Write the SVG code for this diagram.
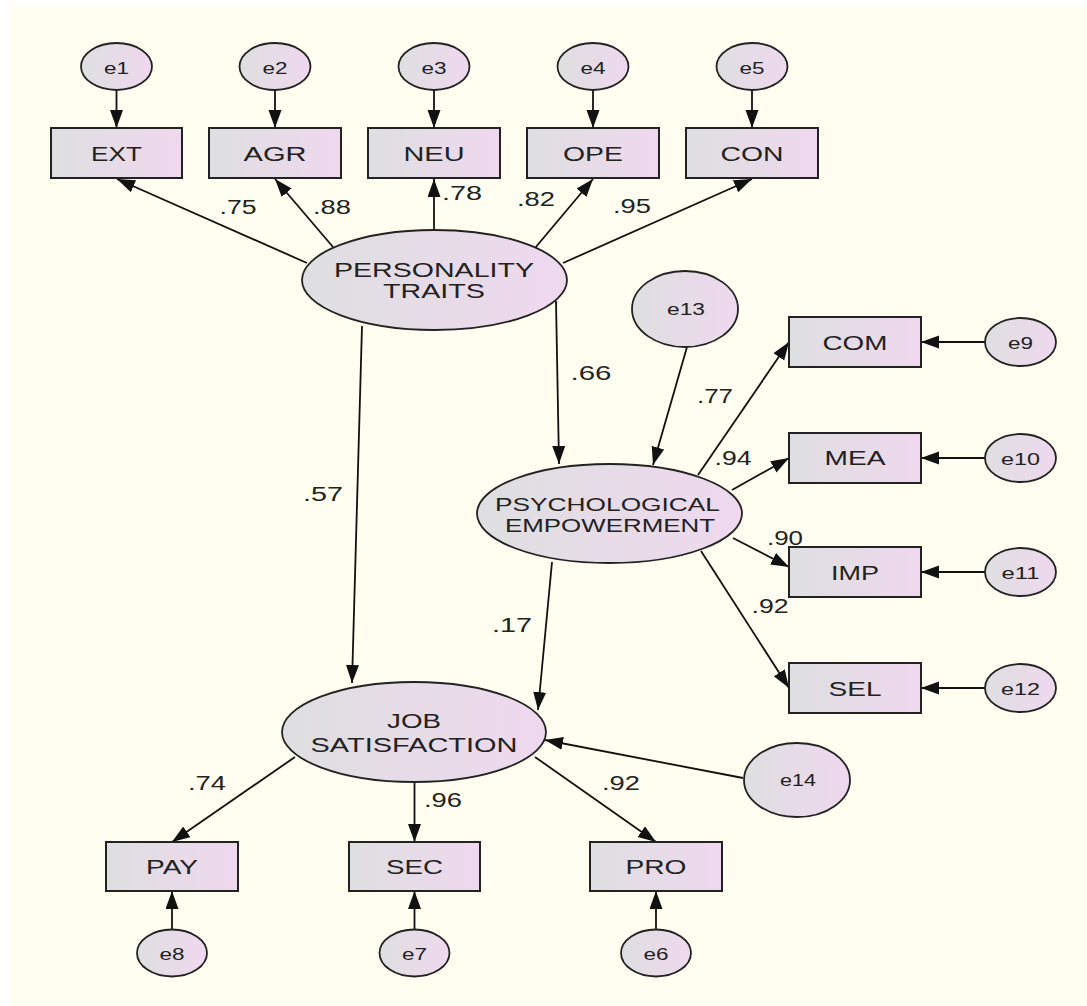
<svg xmlns="http://www.w3.org/2000/svg" width="1087" height="1006" viewBox="0 0 1087 1006">
<style>
.bx{fill:url(#g);stroke:#222;stroke-width:2}
.el{fill:url(#g);stroke:#222;stroke-width:1.8}
.t{font-family:"Liberation Sans",Arial,sans-serif;fill:#222;text-anchor:middle}
.tb{font-size:20px}
.te{font-size:16.5px}
.tl{font-size:19.5px}
.cn line{stroke:#111;stroke-width:1.8;marker-end:url(#ah)}
</style>
<defs>
<linearGradient id="g" x1="0" y1="0" x2="1" y2="0">
<stop offset="0" stop-color="#dedfe0"/>
<stop offset="1" stop-color="#efd8ef"/>
</linearGradient>
<marker id="ah" markerUnits="userSpaceOnUse" markerWidth="19" markerHeight="14" refX="18" refY="6.5" orient="auto">
<path d="M0,0 L18,6.5 L0,13 z" fill="#111"/>
</marker>
</defs>
<rect x="0" y="0" width="1087" height="1006" fill="#ffffff"/>
<rect x="10" y="5" width="1077" height="1001" fill="#fffef0"/>

<g id="connectors" class="cn">
<line x1="116.5" y1="90" x2="116.5" y2="128"/>
<line x1="275" y1="90" x2="275" y2="128"/>
<line x1="434" y1="90" x2="434" y2="128"/>
<line x1="593" y1="90" x2="593" y2="128"/>
<line x1="752" y1="90" x2="752" y2="128"/>
<line x1="307" y1="263" x2="117" y2="179"/>
<line x1="333" y1="247" x2="275" y2="179"/>
<line x1="434" y1="230" x2="434" y2="179"/>
<line x1="535" y1="248" x2="593" y2="179"/>
<line x1="563" y1="263" x2="752" y2="179"/>
<line x1="556" y1="301" x2="559" y2="464"/>
<line x1="362" y1="326" x2="352" y2="683"/>
<line x1="687" y1="347" x2="653" y2="465"/>
<line x1="698" y1="475" x2="789" y2="342"/>
<line x1="732" y1="490" x2="789" y2="458"/>
<line x1="733" y1="538" x2="789" y2="567"/>
<line x1="701" y1="551" x2="789" y2="688"/>
<line x1="552" y1="562" x2="538" y2="710"/>
<line x1="985" y1="342" x2="921" y2="342"/>
<line x1="985" y1="458" x2="921" y2="458"/>
<line x1="985" y1="572" x2="921" y2="572"/>
<line x1="985" y1="688" x2="921" y2="688"/>
<line x1="743" y1="778" x2="545" y2="740"/>
<line x1="295" y1="757" x2="172" y2="842"/>
<line x1="414.5" y1="782" x2="414.5" y2="842"/>
<line x1="535" y1="757" x2="656" y2="842"/>
<line x1="172" y1="930" x2="172" y2="891"/>
<line x1="414.5" y1="930" x2="414.5" y2="891"/>
<line x1="656" y1="930" x2="656" y2="891"/>
</g>

<g id="labels" class="t tl">
<text x="238" y="214" textLength="37" lengthAdjust="spacingAndGlyphs">.75</text>
<text x="332" y="214" textLength="38" lengthAdjust="spacingAndGlyphs">.88</text>
<text x="462" y="200" textLength="40" lengthAdjust="spacingAndGlyphs">.78</text>
<text x="536" y="206" textLength="38" lengthAdjust="spacingAndGlyphs">.82</text>
<text x="632" y="213" textLength="38" lengthAdjust="spacingAndGlyphs">.95</text>
<text x="591" y="380" textLength="41" lengthAdjust="spacingAndGlyphs">.66</text>
<text x="715" y="403" textLength="36" lengthAdjust="spacingAndGlyphs">.77</text>
<text x="733" y="465" textLength="37" lengthAdjust="spacingAndGlyphs">.94</text>
<text x="785" y="545" textLength="36" lengthAdjust="spacingAndGlyphs">.90</text>
<text x="770" y="613" textLength="37" lengthAdjust="spacingAndGlyphs">.92</text>
<text x="323" y="501" textLength="40" lengthAdjust="spacingAndGlyphs">.57</text>
<text x="512" y="632" textLength="40" lengthAdjust="spacingAndGlyphs">.17</text>
<text x="207" y="790" textLength="38" lengthAdjust="spacingAndGlyphs">.74</text>
<text x="443" y="807" textLength="38" lengthAdjust="spacingAndGlyphs">.96</text>
<text x="621" y="790" textLength="38" lengthAdjust="spacingAndGlyphs">.92</text>
</g>

<g id="e1"><ellipse class="el" cx="116.5" cy="66.5" rx="35.5" ry="23.5"/><text class="t te" x="116.5" y="74" textLength="25" lengthAdjust="spacingAndGlyphs">e1</text></g>
<g id="e2"><ellipse class="el" cx="275" cy="66.5" rx="35.5" ry="23.5"/><text class="t te" x="275" y="74" textLength="25" lengthAdjust="spacingAndGlyphs">e2</text></g>
<g id="e3"><ellipse class="el" cx="434" cy="66.5" rx="35.5" ry="23.5"/><text class="t te" x="434" y="74" textLength="25" lengthAdjust="spacingAndGlyphs">e3</text></g>
<g id="e4"><ellipse class="el" cx="593" cy="66.5" rx="35.5" ry="23.5"/><text class="t te" x="593" y="74" textLength="25" lengthAdjust="spacingAndGlyphs">e4</text></g>
<g id="e5"><ellipse class="el" cx="752" cy="66.5" rx="35.5" ry="23.5"/><text class="t te" x="752" y="74" textLength="25" lengthAdjust="spacingAndGlyphs">e5</text></g>

<g id="EXT"><rect class="bx" x="51" y="128" width="131" height="50"/><text class="t tb" x="116.5" y="161" textLength="51" lengthAdjust="spacingAndGlyphs">EXT</text></g>
<g id="AGR"><rect class="bx" x="209" y="128" width="132" height="50"/><text class="t tb" x="275" y="161" textLength="63" lengthAdjust="spacingAndGlyphs">AGR</text></g>
<g id="NEU"><rect class="bx" x="368" y="128" width="132" height="50"/><text class="t tb" x="434" y="161" textLength="61" lengthAdjust="spacingAndGlyphs">NEU</text></g>
<g id="OPE"><rect class="bx" x="527" y="128" width="132" height="50"/><text class="t tb" x="593" y="161" textLength="60" lengthAdjust="spacingAndGlyphs">OPE</text></g>
<g id="CON"><rect class="bx" x="686" y="128" width="132" height="50"/><text class="t tb" x="752" y="161" textLength="63" lengthAdjust="spacingAndGlyphs">CON</text></g>

<g id="PT"><ellipse class="el" cx="434.5" cy="280" rx="132.5" ry="50"/>
<text class="t tb" x="434" y="276.5" textLength="200" lengthAdjust="spacingAndGlyphs">PERSONALITY</text>
<text class="t tb" x="434" y="298" textLength="102" lengthAdjust="spacingAndGlyphs">TRAITS</text></g>

<g id="e13"><ellipse class="el" cx="685" cy="309" rx="53" ry="38"/><text class="t te" x="686" y="315" textLength="38" lengthAdjust="spacingAndGlyphs">e13</text></g>

<g id="PE"><ellipse class="el" cx="609.5" cy="513.5" rx="132.5" ry="49.5"/>
<text class="t" style="font-size:18.5px" x="607.5" y="510.5" textLength="225" lengthAdjust="spacingAndGlyphs">PSYCHOLOGICAL</text>
<text class="t" style="font-size:18.5px" x="610" y="531.5" textLength="210" lengthAdjust="spacingAndGlyphs">EMPOWERMENT</text></g>

<g id="COM"><rect class="bx" x="789" y="317" width="132" height="50"/><text class="t tb" x="855" y="349.5" textLength="65" lengthAdjust="spacingAndGlyphs">COM</text></g>
<g id="MEA"><rect class="bx" x="789" y="433" width="132" height="50"/><text class="t tb" x="855" y="465" textLength="61" lengthAdjust="spacingAndGlyphs">MEA</text></g>
<g id="IMP"><rect class="bx" x="789" y="547" width="132" height="50"/><text class="t tb" x="855" y="579.5" textLength="48" lengthAdjust="spacingAndGlyphs">IMP</text></g>
<g id="SEL"><rect class="bx" x="789" y="663" width="132" height="50"/><text class="t tb" x="855" y="695.5" textLength="53" lengthAdjust="spacingAndGlyphs">SEL</text></g>

<g id="e9"><ellipse class="el" cx="1020.5" cy="342" rx="35.5" ry="24"/><text class="t te" x="1020.5" y="349" textLength="25" lengthAdjust="spacingAndGlyphs">e9</text></g>
<g id="e10"><ellipse class="el" cx="1020.5" cy="458" rx="35.5" ry="24"/><text class="t te" x="1020.5" y="465" textLength="39" lengthAdjust="spacingAndGlyphs">e10</text></g>
<g id="e11"><ellipse class="el" cx="1020.5" cy="572" rx="35.5" ry="24"/><text class="t te" x="1020.5" y="579" textLength="38" lengthAdjust="spacingAndGlyphs">e11</text></g>
<g id="e12"><ellipse class="el" cx="1020.5" cy="688" rx="35.5" ry="24"/><text class="t te" x="1020.5" y="695" textLength="39" lengthAdjust="spacingAndGlyphs">e12</text></g>

<g id="JS"><ellipse class="el" cx="414" cy="732" rx="132" ry="50"/>
<text class="t tb" x="414" y="728" textLength="54" lengthAdjust="spacingAndGlyphs">JOB</text>
<text class="t tb" x="414" y="751.5" textLength="207" lengthAdjust="spacingAndGlyphs">SATISFACTION</text></g>

<g id="e14"><ellipse class="el" cx="797" cy="780" rx="53" ry="37"/><text class="t te" x="798" y="786" textLength="36" lengthAdjust="spacingAndGlyphs">e14</text></g>

<g id="PAY"><rect class="bx" x="106" y="842" width="132" height="49"/><text class="t tb" x="172" y="874" textLength="52" lengthAdjust="spacingAndGlyphs">PAY</text></g>
<g id="SEC"><rect class="bx" x="349" y="842" width="131" height="49"/><text class="t tb" x="414.5" y="874" textLength="57" lengthAdjust="spacingAndGlyphs">SEC</text></g>
<g id="PRO"><rect class="bx" x="590" y="842" width="132" height="49"/><text class="t tb" x="656" y="874" textLength="61" lengthAdjust="spacingAndGlyphs">PRO</text></g>

<g id="e8"><ellipse class="el" cx="172" cy="953" rx="35" ry="23.5"/><text class="t te" x="172" y="960" textLength="25" lengthAdjust="spacingAndGlyphs">e8</text></g>
<g id="e7"><ellipse class="el" cx="414.5" cy="953" rx="35" ry="23.5"/><text class="t te" x="414.5" y="960" textLength="25" lengthAdjust="spacingAndGlyphs">e7</text></g>
<g id="e6"><ellipse class="el" cx="656" cy="953" rx="35" ry="23.5"/><text class="t te" x="656" y="960" textLength="25" lengthAdjust="spacingAndGlyphs">e6</text></g>
</svg>
